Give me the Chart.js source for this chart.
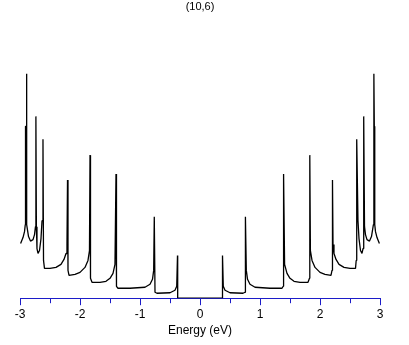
<!DOCTYPE html>
<html>
<head>
<meta charset="utf-8">
<script src="https://cdn.jsdelivr.net/npm/chart.js@4"></script>
<style>
    body { margin: 0; background: #fff; }
    canvas { display: block; }
</style>
</head>
<body>
<canvas id="chart1" width="409" height="345"></canvas>
<script>
// valence side (E < 0)
var energyLeft = [-2.99, -2.95, -2.925, -2.912, -2.908, -2.90, -2.893, -2.885, -2.858, -2.825,
    -2.783, -2.758, -2.742, -2.735, -2.727, -2.717, -2.70, -2.675, -2.65, -2.633,
    -2.617, -2.608, -2.592, -2.50, -2.40, -2.317, -2.267, -2.233, -2.217, -2.208,
    -2.20, -2.183, -2.083, -2.00, -1.917, -1.867, -1.842, -1.833, -1.825, -1.80,
    -1.667, -1.567, -1.50, -1.45, -1.417, -1.40, -1.392, -1.367, -1.167, -0.917,
    -0.833, -0.792, -0.772, -0.762, -0.75, -0.717, -0.50, -0.417, -0.388, -0.375,
    -0.372];
var dosLeft = [0.55, 0.61, 0.67, 0.74, 1.73, 1.73, 2.26, 0.74, 0.62, 0.575,
    0.59, 0.64, 0.72, 1.83, 0.72, 0.50, 0.45, 0.48, 0.60, 0.78,
    1.60, 0.38, 0.30, 0.30, 0.31, 0.34, 0.39, 0.45, 0.54, 1.19,
    0.28, 0.23, 0.24, 0.26, 0.31, 0.38, 0.48, 1.44, 0.20, 0.16,
    0.16, 0.17, 0.20, 0.25, 0.34, 1.25, 0.12, 0.10, 0.10, 0.11,
    0.14, 0.19, 0.28, 0.82, 0.06, 0.05, 0.055, 0.08, 0.12, 0.43,
    0.00];

// conduction side (E > 0)
var energyRight = [0.372, 0.375, 0.388, 0.417, 0.50, 0.717, 0.75, 0.757, 0.772, 0.792,
    0.833, 0.917, 1.167, 1.367, 1.387, 1.393, 1.41, 1.45, 1.50, 1.567,
    1.667, 1.80, 1.825, 1.83, 1.84, 1.867, 1.917, 2.00, 2.083, 2.183,
    2.20, 2.208, 2.217, 2.233, 2.267, 2.317, 2.40, 2.50, 2.592, 2.603,
    2.612, 2.633, 2.65, 2.675, 2.70, 2.717, 2.725, 2.732, 2.742, 2.758,
    2.783, 2.825, 2.858, 2.89, 2.898, 2.905, 2.91, 2.915, 2.925, 2.95,
    2.99];
var dosRight = [0.00, 0.43, 0.12, 0.08, 0.055, 0.05, 0.06, 0.82, 0.28, 0.19,
    0.14, 0.11, 0.10, 0.10, 0.12, 1.25, 0.34, 0.25, 0.20, 0.17,
    0.16, 0.16, 0.20, 1.44, 0.48, 0.38, 0.31, 0.26, 0.24, 0.23,
    0.28, 1.19, 0.54, 0.45, 0.39, 0.34, 0.31, 0.30, 0.30, 0.38,
    1.60, 0.78, 0.60, 0.48, 0.45, 0.50, 0.72, 1.83, 0.72, 0.64,
    0.59, 0.575, 0.62, 0.74, 2.26, 1.73, 1.73, 0.74, 0.67, 0.61,
    0.55];

var xTicks = [-3, -2.5, -2, -1.5, -1, -0.5, 0, 0.5, 1, 1.5, 2, 2.5, 3];
var axisBlue = '#1c1cc8';

document.addEventListener('DOMContentLoaded', function () {

    var points = [];
    energyLeft.forEach(function (e, i) { points.push({ x: e, y: dosLeft[i] }); });
    energyRight.forEach(function (e, i) { points.push({ x: e, y: dosRight[i] }); });

    // integer ticks long, half ticks short
    var tickMarks = {
        id: 'tickMarks',
        afterDraw: function (chart) {
            var scale = chart.scales.x;
            var c = chart.ctx;
            c.save();
            c.strokeStyle = axisBlue;
            c.lineWidth = 1;
            xTicks.forEach(function (v) {
                var px = Math.round(scale.getPixelForValue(v)) + 0.5;
                var len = Number.isInteger(v) ? 7 : 5;
                c.beginPath();
                c.moveTo(px, scale.top);
                c.lineTo(px, scale.top + len);
                c.stroke();
            });
            c.restore();
        }
    };

    var ctx1 = document.getElementById('chart1').getContext('2d');
    var chart1 = new Chart(ctx1, {
        type: 'scatter',
        data: {
            datasets: [{
                label: 'DOS',
                data: points,
                showLine: true,
                borderColor: '#000',
                borderWidth: 1.3,
                borderJoinStyle: 'bevel',
                pointRadius: 0,
                tension: 0
            }]
        },
        options: {
            responsive: false,
            animation: false,
            devicePixelRatio: 1,
            layout: { padding: { left: 20, right: 29, top: 0, bottom: 7 } },
            plugins: {
                legend: { display: false },
                tooltip: { enabled: false },
                title: {
                    display: true,
                    text: '(10,6)',
                    color: '#000',
                    font: { family: 'Liberation Sans', size: 11, weight: 'normal' },
                    padding: { top: 0, bottom: 6.8 }
                }
            },
            scales: {
                x: {
                    type: 'linear',
                    min: -3,
                    max: 3,
                    afterBuildTicks: function (axis) {
                        axis.ticks = xTicks.map(function (v) { return { value: v }; });
                    },
                    grid: { display: true, drawOnChartArea: false, tickLength: 7, tickColor: 'transparent' },
                    border: { display: true, color: axisBlue, width: 1 },
                    ticks: {
                        color: '#000',
                        padding: 2,
                        maxRotation: 0,
                        font: { family: 'Liberation Sans', size: 12 },
                        callback: function (v) { return Number.isInteger(v) ? String(v) : ''; }
                    },
                    title: {
                        display: true,
                        text: 'Energy (eV)',
                        color: '#000',
                        font: { family: 'Liberation Sans', size: 12 },
                        padding: { top: 0, bottom: 0 }
                    }
                },
                y: {
                    display: false,
                    min: 0,
                    max: 2.8
                }
            }
        },
        plugins: [tickMarks]
    });
});
</script>
</body>
</html>
